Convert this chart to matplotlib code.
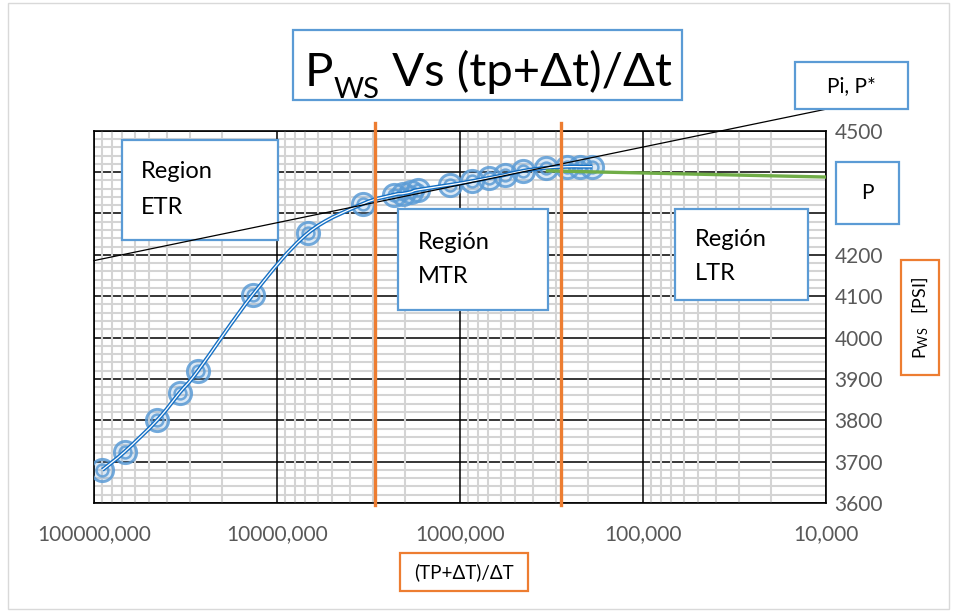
import numpy as np
import matplotlib
matplotlib.use('Agg')
import matplotlib.pyplot as plt
from matplotlib.patches import Rectangle, PathPatch
from matplotlib.path import Path
from matplotlib.ticker import FixedLocator, MultipleLocator, LogLocator, NullFormatter, FixedFormatter

plt.rcParams['font.family'] = ['Lato', 'DejaVu Sans']
plt.rcParams['mathtext.fontset'] = 'custom'
plt.rcParams['mathtext.rm'] = 'Lato'
plt.rcParams['mathtext.it'] = 'Lato:italic'
plt.rcParams['mathtext.bf'] = 'Lato:bold'

# ---------------- data ----------------
tp_dt = [9.0e7, 6.8e7, 4.5e7, 3.4e7, 2.7e7, 1.36e7, 6.8e6, 3.4e6, 2.3e6, 2.05e6,
         1.85e6, 1.7e6, 1.13e6, 8.6e5, 6.9e5, 5.7e5, 4.5e5, 3.4e5, 2.6e5, 2.2e5, 1.9e5]
pws = [3680, 3724, 3801, 3867, 3920, 4103, 4252, 4323, 4345, 4348,
       4352, 4357, 4369, 4378, 4386, 4393, 4403, 4410, 4413, 4413, 4413]

pstar_x = [1e8, 1e4]
pstar_y = [4186, 4552]

late_x = [3.4e5, 1e4]
late_y = [4403, 4388]

region_bounds = [2.9e6, 2.8e5]

xtick_vals = [1e8, 1e7, 1e6, 1e5, 1e4]
xtick_labels = ["100000,000", "10000,000", "1000,000", "100,000", "10,000"]
ytick_vals = [3600, 3700, 3800, 3900, 4000, 4100, 4200, 4300, 4400, 4500]

# ---------------- figure ----------------
W, H = 956, 613
fig = plt.figure(figsize=(W / 100, H / 100), dpi=100)

def fx(px):
    return px / W

def fy(py):
    return 1 - py / H

ax = fig.add_axes([fx(94), fy(503), (826 - 94) / W, (503 - 130.7) / H])
ax.set_xscale('log')
ax.set_xlim(1e8, 1e4)
ax.set_ylim(3600, 4500)

ax.xaxis.set_major_locator(FixedLocator(xtick_vals))
ax.xaxis.set_major_formatter(FixedFormatter(xtick_labels))
ax.xaxis.set_minor_locator(LogLocator(base=10, subs=np.arange(2, 10)))
ax.xaxis.set_minor_formatter(NullFormatter())
ax.yaxis.set_major_locator(FixedLocator(ytick_vals))
ax.yaxis.set_minor_locator(MultipleLocator(20))
ax.yaxis.tick_right()

ax.tick_params(axis='both', which='both', length=0, labelcolor='#595959', labelsize=15)
ax.tick_params(axis='x', pad=15)
ax.tick_params(axis='y', pad=6)

ax.set_axisbelow(True)
ax.grid(which='major', axis='both', color='black', lw=1.1)
ax.grid(which='minor', axis='both', color='#d4d4d4', lw=1.5)
ax.xaxis.set_zorder(0.6)
ax.yaxis.set_zorder(0.5)
for s in ax.spines.values():
    s.set_color('black')
    s.set_linewidth(1.2)

blue_edge = '#5b9bd5'
orange = '#ed7d31'

def box(x0, y0, x1, y1, ec, target, z):
    r = Rectangle((fx(x0), fy(y1)), fx(x1) - fx(x0), fy(y0) - fy(y1),
                  transform=fig.transFigure, facecolor='white', edgecolor=ec,
                  lw=1.6, zorder=z, clip_on=False)
    if target is fig:
        fig.add_artist(r)
    else:
        target.add_patch(r)
    return r

box(122, 139.5, 277.5, 240, blue_edge, ax, 2)
box(398, 208.5, 548, 310, blue_edge, ax, 2)
box(675, 208.5, 808, 300, blue_edge, ax, 2)

# markers
ax.plot(tp_dt, pws, linestyle='none', marker='o', ms=16,
        mfc=(0.36, 0.61, 0.84, 0.22), mec=(0.36, 0.61, 0.84, 0.85), mew=2.1, zorder=3)
ax.plot(tp_dt, pws, linestyle='none', marker='o', ms=8.5,
        mfc='none', mec=(0.36, 0.61, 0.84, 0.85), mew=1.8, zorder=3)

# smoothed double line (Catmull-Rom rendered as cubic Bezier segments)
u = np.log10(np.array(tp_dt, dtype=float))
v = np.array(pws, dtype=float)
P = np.column_stack([u, v])
verts = [P[0]]
codes = [Path.MOVETO]
n = len(P)
for i in range(n - 1):
    p0 = P[i - 1] if i > 0 else P[i]
    p1 = P[i]
    p2 = P[i + 1]
    p3 = P[i + 2] if i + 2 < n else P[i + 1]
    c1 = p1 + (p2 - p0) / 6.0
    c2 = p2 - (p3 - p1) / 6.0
    verts += [c1, c2, p2]
    codes += [Path.CURVE4] * 3
verts = np.array(verts)
verts[:, 0] = 10 ** verts[:, 0]
path = Path(verts, codes)
ax.add_patch(PathPatch(path, facecolor='none', edgecolor='#1570c4', lw=2.9, zorder=4,
                       transform=ax.transData))
ax.add_patch(PathPatch(path, facecolor='none', edgecolor='white', lw=0.9, zorder=4.1,
                       transform=ax.transData))

# late-time green line
ax.plot(late_x, late_y, color='#70ad47', lw=2.4, zorder=5, solid_capstyle='butt', clip_on=False)

# P* straight line
ax.plot(pstar_x, pstar_y, color='black', lw=0.9, zorder=5.5, clip_on=False)

# region boundaries
for b in region_bounds:
    ax.axvline(b, ymin=-0.006, ymax=1.022, color=orange, lw=2.4, zorder=6, clip_on=False)

# region texts
ts = 17
ax.text(fx(141), fy(177.5), 'Region', transform=fig.transFigure, fontsize=ts, va='baseline', ha='left', zorder=7)
ax.text(fx(141), fy(214), 'ETR', transform=fig.transFigure, fontsize=ts, va='baseline', ha='left', zorder=7)
ax.text(fx(418), fy(249), 'Región', transform=fig.transFigure, fontsize=ts, va='baseline', ha='left', zorder=7)
ax.text(fx(418), fy(283), 'MTR', transform=fig.transFigure, fontsize=ts, va='baseline', ha='left', zorder=7)
ax.text(fx(695), fy(246), 'Región', transform=fig.transFigure, fontsize=ts, va='baseline', ha='left', zorder=7)
ax.text(fx(695), fy(280), 'LTR', transform=fig.transFigure, fontsize=ts, va='baseline', ha='left', zorder=7)

# title box with manually placed subscript
box(293, 30, 682, 100, blue_edge, fig, 1)
renderer = fig.canvas.get_renderer()
base_main = 85.5
base_sub = 97.5
t1 = fig.text(0, fy(base_main), 'P', fontsize=34, ha='left', va='baseline', zorder=2)
t2 = fig.text(0, fy(base_sub), 'WS', fontsize=21, ha='left', va='baseline', zorder=2)
t3 = fig.text(0, fy(base_main), ' Vs (tp+Δt)/Δt', fontsize=34, ha='left', va='baseline', zorder=2)
w1 = t1.get_window_extent(renderer).width
w2 = t2.get_window_extent(renderer).width
w3 = t3.get_window_extent(renderer).width
total = w1 + w2 + w3
start = 487.5 - total / 2
t1.set_x(fx(start))
t2.set_x(fx(start + w1 + 1))
t3.set_x(fx(start + w1 + w2 + 1))

box(795, 62, 908, 108.5, blue_edge, fig, 1)
fig.text(fx(851.5), fy(86), 'Pi, P*', fontsize=15, ha='center', va='center', zorder=2)

box(836, 162.5, 899, 224.5, blue_edge, fig, 1)
fig.text(fx(867.5), fy(193.5), 'P', fontsize=15, ha='center', va='center', zorder=2)

box(901, 260, 939, 375, orange, fig, 1)
fig.text(fx(920), fy(317.5), r'P$_{\mathrm{WS}}$   [PSI]', fontsize=13, rotation=90,
         ha='center', va='center', zorder=2)

box(400, 553, 528, 591, orange, fig, 1)
fig.text(fx(464), fy(572), '(TP+ΔT)/ΔT', fontsize=13.5, ha='center', va='center', zorder=2)

# chart area border
fig.add_artist(Rectangle((fx(7.5), fy(609)), fx(949) - fx(7.5), fy(3) - fy(609),
                         transform=fig.transFigure, facecolor='none', edgecolor='#d9d9d9',
                         lw=1.0, zorder=0))

fig.savefig('out.png', dpi=100)
